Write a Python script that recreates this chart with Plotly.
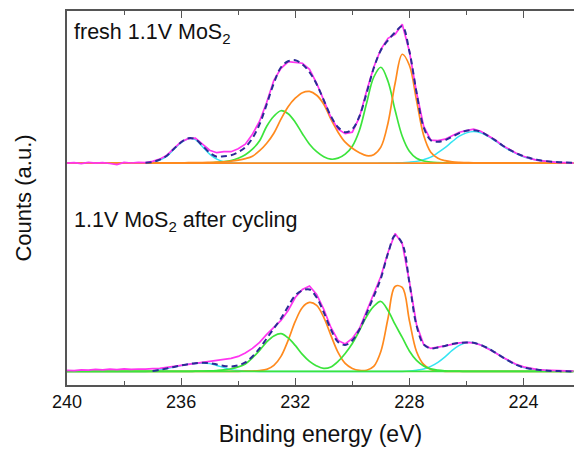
import plotly.graph_objects as go

# Binding energy grid (eV), 8 points per row = 2 eV per row
energy = [
    240.0, 239.75, 239.5, 239.25, 239.0, 238.75, 238.5, 238.25,
    238.0, 237.75, 237.5, 237.25, 237.0, 236.75, 236.5, 236.25,
    236.0, 235.75, 235.5, 235.25, 235.0, 234.75, 234.5, 234.25,
    234.0, 233.75, 233.5, 233.25, 233.0, 232.75, 232.5, 232.25,
    232.0, 231.75, 231.5, 231.25, 231.0, 230.75, 230.5, 230.25,
    230.0, 229.75, 229.5, 229.25, 229.0, 228.75, 228.5, 228.25,
    228.0, 227.75, 227.5, 227.25, 227.0, 226.75, 226.5, 226.25,
    226.0, 225.75, 225.5, 225.25, 225.0, 224.75, 224.5, 224.25,
    224.0, 223.75, 223.5, 223.25, 223.0, 222.75, 222.5, 222.25,
]

# ---------- fresh 1.1V MoS2 (upper spectrum), counts above its baseline ----------
fresh_cyan = [
    0, 0, 0, 0, 0, 0, 0, 0,
    0, 0, 0.1, 0.3, 0.8, 3, 7, 14,
    20.5, 24.5, 23.5, 16.5, 9, 4, 1.3, 0.4,
    0.1, 0, 0, 0, 0, 0, 0, 0,
    0, 0, 0, 0, 0, 0, 0, 0,
    0, 0, 0, 0, 0.1, 0.2, 0.3, 0.5,
    1, 1.8, 3.5, 6, 10.5, 15.5, 21.5, 27,
    30.3, 31.7, 30.5, 27, 22.5, 17.5, 13, 9.5,
    6.5, 4.5, 3, 2, 1.3, 0.8, 0.5, 0.3,
]
fresh_orange = [
    0.2, 0.2, 0.2, 0.2, 0.2, 0.2, 0.2, 0.2,
    0.2, 0.2, 0.2, 0.2, 0.2, 0.3, 0.3, 0.4,
    0.4, 0.5, 0.5, 0.6, 0.8, 1, 1.3, 2,
    3, 4.5, 7, 12.5, 20, 30, 44, 56.5,
    65, 70.5, 71.8, 68, 59, 44, 31, 21,
    15, 10.5, 7.5, 8.5, 16, 40, 80, 109,
    98, 63, 28, 11, 5, 2.5, 1.3, 0.8,
    0.6, 0.4, 0.4, 0.3, 0.3, 0.3, 0.3, 0.2,
    0.2, 0.2, 0.2, 0.2, 0.2, 0.2, 0.2, 0.2,
]
fresh_green = [
    0, 0, 0, 0, 0, 0, 0, 0,
    0, 0, 0, 0, 0, 0, 0, 0,
    0, 0, 0.1, 0.2, 0.4, 0.8, 1.5, 2.7,
    5, 8.5, 14, 22.5, 37, 47, 52.5, 49.5,
    41, 29.5, 19, 11.5, 6.5, 4, 5, 9,
    17, 33, 60, 86, 96, 82, 53, 27,
    12, 5, 2.2, 1, 0.5, 0.3, 0.2, 0,
    0, 0, 0, 0, 0, 0, 0, 0,
    0, 0, 0, 0, 0, 0, 0, 0,
]
# flat background line under the fresh spectrum (drawn in orange)
fresh_background = [
    0, 0, 0, 0, 0, 0, 0, 0,
    0, 0, 0, 0, 0, 0, 0, 0,
    0, 0, 0, 0, 0, 0, 0, 0,
    0, 0, 0, 0, 0, 0, 0, 0,
    0, 0, 0, 0, 0, 0, 0, 0,
    0, 0, 0, 0, 0, 0, 0, 0,
    0, 0, 0, 0, 0, 0, 0, 0,
    0, 0, 0, 0, 0, 0, 0, 0,
    0, 0, 0, 0, 0, 0, 0, 0,
]
fresh_fit = [
    None, None, None, None, None, None, None, None,
    None, None, None, 0.5, 1.2, 3.5, 7.5, 14.5,
    21, 25, 24, 17.5, 10.5, 6.5, 7, 8,
    11, 16, 25, 39, 59, 80, 96, 102,
    103, 99, 91, 79, 63, 47, 36, 31,
    34, 47, 70, 95, 113, 123, 131, 137,
    112, 71, 36, 23, 21.5, 23, 26.5, 30,
    32.5, 33, 31.5, 27.5, 23, 18, 13.5, 10,
    7, 5, 3.3, 2.2, 1.5, 1, 0.6, 0.4,
]
fresh_data = [
    0, 0.5, -0.5, 0.8, 0, 0.6, -0.3, -1.5,
    0.7, 0.2, 0.8, 0.6, 1.8, 4, 8, 15,
    21.5, 24.5, 25, 19, 13, 10.5, 11.5, 11.5,
    14.5, 19, 29, 42, 61, 83, 95, 101.5,
    101, 100, 94, 80, 63, 46, 34, 29.5,
    31, 46, 72, 96, 114, 125, 129, 139,
    112, 71, 37, 23, 22.5, 24, 27.5, 31,
    32.5, 34, 32, 28, 23.5, 18, 14, 10,
    7, 4.5, 2.8, 1.8, 1.2, 0.5, 0.6, 0,
]

# ---------- 1.1V MoS2 after cycling (lower spectrum) ----------
cycled_cyan = [
    0, 0, 0, 0, 0, 0, 0, 0,
    0, 0, 0, 0, 0.5, 1.5, 3, 4.5,
    6, 7.3, 8, 8.3, 7.8, 6, 3.8, 1.8,
    0.8, 0.3, 0.1, 0, 0, 0, 0, 0,
    0, 0, 0, 0, 0, 0, 0, 0,
    0, 0, 0, 0, 0, 0, 0, 0,
    0.3, 1.2, 2.5, 5, 9, 14.5, 21, 26,
    29, 28.8, 26.5, 23.2, 19, 14.5, 10.2, 6.5,
    4, 2.6, 1.6, 0.9, 0.5, 0.3, 0.1, 0,
]
cycled_orange = [
    0, 0, 0, 0, 0, 0, 0, 0,
    0, 0, 0, 0, 0, 0, 0, 0,
    0, 0, 0, 0, 0, 0, 0, 0,
    0.1, 0.2, 0.3, 0.8, 2, 6, 15, 31,
    50, 64, 69, 66, 54, 36, 19, 8,
    3, 1, 1.2, 5, 20, 53, 85, 84,
    51, 20, 7, 2, 0.4, 0.1, 0, 0,
    0, 0, 0, 0, 0, 0, 0, 0,
    0, 0, 0, 0, 0, 0, 0, 0,
]
cycled_green = [
    0, 0, 0, 0, 0, 0, 0, 0,
    0, 0, 0, 0, 0, 0, 0, 0,
    0, 0, 0.2, 0.3, 0.5, 0.9, 1.5, 2.7,
    4.5, 7.5, 13.5, 21, 29.5, 35.5, 37.8, 33.5,
    26, 17, 10, 5.5, 3, 4.5, 10, 18,
    28, 41, 55, 65, 70, 61, 47, 34,
    20.5, 11, 5.5, 2.5, 1.2, 0.6, 0.3, 0.2,
    0, 0, 0, 0, 0, 0, 0, 0,
    0, 0, 0, 0, 0, 0, 0, 0,
]
# flat background line under the cycled spectrum (drawn in green)
cycled_background = [
    0, 0, 0, 0, 0, 0, 0, 0,
    0, 0, 0, 0, 0, 0, 0, 0,
    0, 0, 0, 0, 0, 0, 0, 0,
    0, 0, 0, 0, 0, 0, 0, 0,
    0, 0, 0, 0, 0, 0, 0, 0,
    0, 0, 0, 0, 0, 0, 0, 0,
    0, 0, 0, 0, 0, 0, 0, 0,
    0, 0, 0, 0, 0, 0, 0, 0,
    0, 0, 0, 0, 0, 0, 0, 0,
]
cycled_fit = [
    None, None, None, None, None, None, None, None,
    None, None, None, None, 0.5, 1.5, 3, 4.5,
    6, 7.3, 8.2, 8.6, 8.3, 7, 5.5, 5,
    6, 9, 15, 23, 33, 43, 53, 65,
    76, 81, 82, 74, 59, 42, 29.5, 26.5,
    31, 42, 58, 75, 93, 118, 136, 128,
    89, 46, 27, 23, 24, 25.5, 27.5, 28.5,
    29, 28.6, 26.5, 23.2, 19, 14.5, 10.2, 6.5,
    4, 2.6, 1.6, 0.9, 0.5, 0.3, 0.1, 0,
]
cycled_data = [
    1, 0.8, 1.5, 1.2, 2, 1.6, 2.3, 1.8,
    2.5, 2, 2.4, 2.2, 2.8, 3, 4, 5,
    6, 7, 8, 8.8, 9.5, 10.5, 11.5, 13,
    15, 18.5, 23, 29, 37, 44, 51, 61,
    74, 82, 85.5, 77, 62, 44, 31, 27.5,
    33, 43, 60, 77, 95, 119, 138, 128,
    90, 47, 27, 23, 24, 25.5, 27, 28.5,
    29, 28.5, 26.5, 23, 19, 14.5, 10.5, 7,
    4.5, 3, 1.8, 1.2, 0.8, 0.5, 0.6, 0.4,
]

x_range = [240, 222.23]
upper_offset = 208.4

CYAN = "#35e4f2"
ORANGE = "#ff8a1e"
GREEN = "#3ce43c"
MAGENTA = "#ff35f0"
NAVY = "#2b2b96"
AXIS = "#555555"
FONT = "Arial, Liberation Sans, sans-serif"


def shift(vals, off):
    return [None if v is None else v + off for v in vals]


fig = go.Figure()


def add(vals, color, off, width=1.7, dash=None, shape="spline"):
    fig.add_trace(go.Scatter(
        x=energy, y=shift(vals, off), mode="lines",
        line=dict(color=color, width=width, dash=dash, shape=shape),
        showlegend=False, hoverinfo="skip", connectgaps=False,
    ))


# lower spectrum
add(cycled_cyan, CYAN, 0, width=1.5)
add(cycled_orange, ORANGE, 0)
add(cycled_green, GREEN, 0)
add(cycled_background, GREEN, 0, width=1.8, shape="linear")
add(cycled_data, MAGENTA, 0, width=1.7, shape="linear")
add(cycled_fit, NAVY, 0, width=2.0, dash="6px,4px")

# upper spectrum
add(fresh_cyan, CYAN, upper_offset, width=1.5)
add(fresh_green, GREEN, upper_offset)
add(fresh_orange, ORANGE, upper_offset)
add(fresh_background, ORANGE, upper_offset, width=1.8, shape="linear")
add(fresh_data, MAGENTA, upper_offset, width=1.7, shape="linear")
add(fresh_fit, NAVY, upper_offset, width=2.0, dash="6px,4px")

fig.update_layout(
    width=574, height=452,
    margin=dict(l=67, r=0, t=11, b=67, autoexpand=False),
    paper_bgcolor="white", plot_bgcolor="white",
    font=dict(family=FONT, color="#111111"),
    xaxis=dict(
        range=x_range, tick0=240, dtick=4, automargin=False,
        ticks="inside", ticklen=7, tickwidth=1.3, tickcolor=AXIS,
        minor=dict(dtick=2, ticks="inside", ticklen=4, tickwidth=1.3, tickcolor=AXIS),
        showline=True, linecolor=AXIS, linewidth=1.5, mirror="ticks",
        showgrid=False, zeroline=False,
        tickfont=dict(size=18, family=FONT, color="#111111"),
        title=dict(text="Binding energy (eV)", font=dict(size=23, family=FONT, color="#111111"), standoff=15),
    ),
    yaxis=dict(
        range=[-13.6, 360.7], automargin=False,
        showline=True, linecolor=AXIS, linewidth=1.5, mirror=False,
        showticklabels=False, ticks="", showgrid=False, zeroline=False,
        title=dict(text="Counts (a.u.)", font=dict(size=22, family=FONT, color="#111111"), standoff=28),
    ),
    annotations=[
        dict(text="fresh 1.1V MoS<sub>2</sub>", xref="paper", yref="paper",
             x=0.009, y=0.981, xanchor="left", yanchor="top", showarrow=False,
             font=dict(size=21.5, family=FONT, color="#111111")),
        dict(text="1.1V MoS<sub>2</sub> after cycling", xref="paper", yref="paper",
             x=0.009, y=0.479, xanchor="left", yanchor="top", showarrow=False,
             font=dict(size=21.5, family=FONT, color="#111111")),
    ],
)

# remove the browser's default 8px page margin so the figure sits at (0, 0)
fig.write_html(
    "out.html",
    config={"displayModeBar": False},
    post_script="document.body.style.margin='0px';document.body.style.overflow='hidden';",
)
